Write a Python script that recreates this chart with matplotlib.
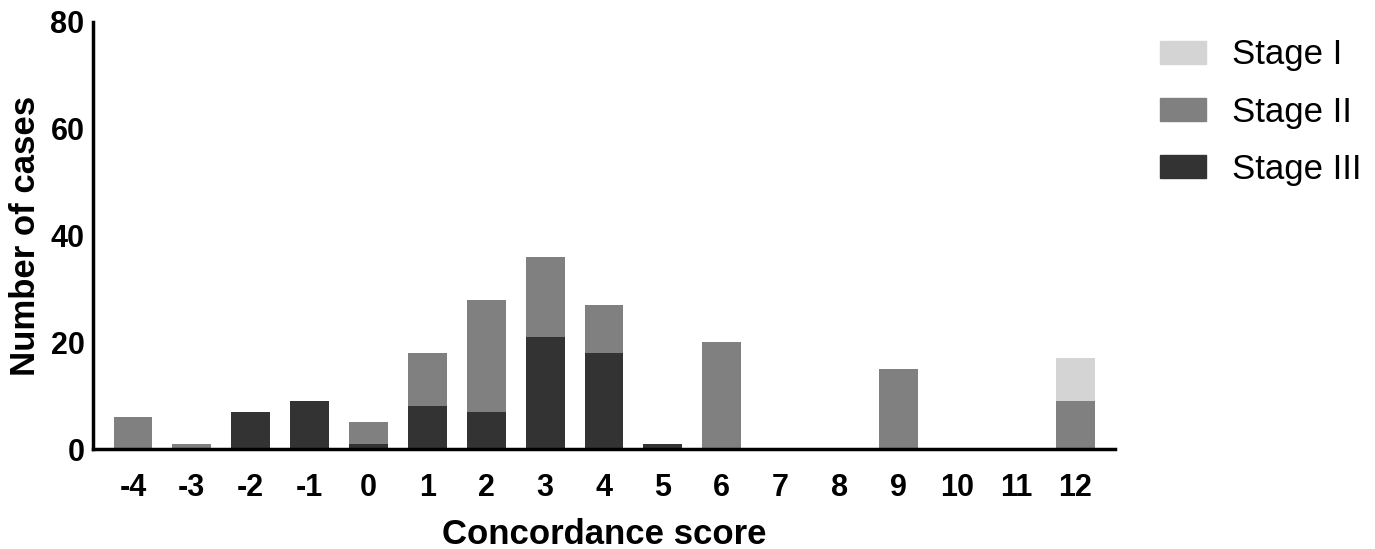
import numpy as np
import matplotlib.pyplot as plt
from matplotlib.patches import Patch

plt.rcParams['font.family'] = ['Liberation Sans', 'DejaVu Sans']
plt.rcParams['axes.unicode_minus'] = False

scores = [-4, -3, -2, -1, 0, 1, 2, 3, 4, 5, 6, 7, 8, 9, 10, 11, 12]
stage3 = [0, 0, 7, 9, 1, 8, 7, 21, 18, 1, 0, 0, 0, 0, 0, 0, 0]
stage2 = [6, 1, 0, 0, 4, 10, 21, 15, 9, 0, 20, 0, 0, 15, 0, 0, 9]
stage1 = [0, 0, 0, 0, 0, 0, 0, 0, 0, 0, 0, 0, 0, 0, 0, 0, 8]

c1, c2, c3 = '#d4d4d4', '#808080', '#333333'

fig = plt.figure(figsize=(13.75, 5.49), dpi=100)
ax = fig.add_axes([0.0676, 0.182, 0.7434, 0.778])

x = np.array(scores)
s3 = np.array(stage3)
s2 = np.array(stage2)
s1 = np.array(stage1)
w = 0.66
ax.bar(x, s3, w, color=c3)
ax.bar(x, s2, w, bottom=s3, color=c2)
ax.bar(x, s1, w, bottom=s3 + s2, color=c1)

ax.set_xlim(-4.68, 12.68)
ax.set_ylim(0, 80)
ax.set_yticks([0, 20, 40, 60, 80])
ax.set_xticks(scores)
ax.tick_params(axis='both', length=0, labelsize=22)
ax.tick_params(axis='x', pad=17)
ax.tick_params(axis='y', pad=6)
for lab in ax.get_xticklabels() + ax.get_yticklabels():
    lab.set_fontweight('bold')
for s in ['top', 'right']:
    ax.spines[s].set_visible(False)
for s in ['left', 'bottom']:
    ax.spines[s].set_linewidth(2.5)

ax.set_xlabel('Concordance score', fontsize=25, fontweight='bold', labelpad=11)
ax.set_ylabel('Number of cases', fontsize=25, fontweight='bold', labelpad=6)

handles = [Patch(color=c1, label='Stage I'),
           Patch(color=c2, label='Stage II'),
           Patch(color=c3, label='Stage III')]
fig.legend(handles=handles, loc='upper left', bbox_to_anchor=(0.8436, 0.93),
           frameon=False, fontsize=25, handlelength=1.33, handleheight=0.63,
           labelspacing=0.7, handletextpad=0.75, borderaxespad=0,
           borderpad=0)

fig.savefig('out.png', dpi=100)
